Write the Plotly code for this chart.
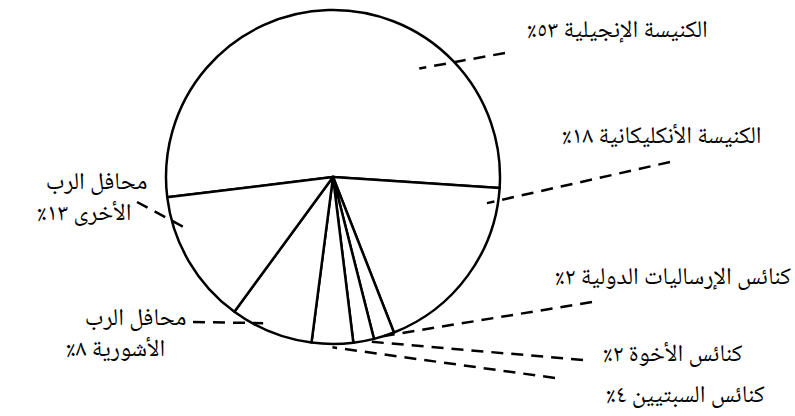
import numpy as np
import plotly.graph_objects as go

# data
categories = [
    "الكنيسة الإنجيلية",
    "الكنيسة الأنكليكانية",
    "كنائس الإرساليات الدولية",
    "كنائس الأخوة",
    "كنائس السبتيين",
    "محافل الرب<br>الأشورية",
    "محافل الرب<br>الأخرى",
]
values = [53, 18, 2, 2, 4, 8, 13]

W, H = 795, 416
cx, cy, R = 333, 177, 167          # pie centre / radius in pixels
rotation = 263

# leader line tip inside each slice: (fraction along slice, radius factor)
tips = [(0.71, 0.83), (0.09, 0.935), (0.5, 1.0), (0.5, 1.0), (0.5, 1.02), (0.63, 0.97), (0.72, 0.92)]
# outer end of leader lines (pixels)
ends = [(505, 53), (670, 162), (592, 302), (583, 360), (555, 378), (193, 322), (137, 202)]
# label box: right edge x, centre y (pixels), extra indent of the 2nd line (nbsp count)
text_pos = [(710, 32, 0), (763, 138, 0), (793, 278, 0), (745, 355, 0), (767, 396, 0),
            (188, 335, 4), (149, 199, 3)]

AR_DIGITS = str.maketrans("0123456789", "٠١٢٣٤٥٦٧٨٩")
RLM = "\u200f"
NBSP = "\u00a0"
FONT = dict(family="Noto Naskh Arabic, DejaVu Sans, serif", size=24, color="black")


def px(x, y):
    return x / W, 1 - y / H


fig = go.Figure(go.Pie(
    labels=categories, values=values, sort=False, direction="clockwise",
    rotation=rotation, textinfo="none", hoverinfo="label+percent",
    marker=dict(colors=["white"] * len(values), line=dict(color="black", width=2.5)),
    domain=dict(x=[(cx - R) / W, (cx + R) / W], y=[1 - (cy + R) / H, 1 - (cy - R) / H]),
))

total = sum(values)
cum = np.concatenate([[0], np.cumsum(values)])
for i, v in enumerate(values):
    f, rf = tips[i]
    a = np.deg2rad(rotation + 360 * (cum[i] + f * v) / total)
    tx, ty = cx + rf * R * np.sin(a), cy - rf * R * np.cos(a)
    x0, y0 = px(*ends[i])
    x1, y1 = px(tx, ty)
    fig.add_shape(type="line", xref="paper", yref="paper", x0=x0, y0=y0, x1=x1, y1=y1,
                  line=dict(color="black", width=2.5, dash="12px,8px"))

    lx, ly, indent = text_pos[i]
    lines = categories[i].split("<br>")
    lines[-1] = lines[-1] + " " + str(v).translate(AR_DIGITS) + "٪"
    if len(lines) > 1:
        lines[-1] = NBSP * indent + lines[-1]
    text = "<br>".join(RLM + s + RLM for s in lines)
    ax, ay = px(lx, ly)
    fig.add_annotation(x=ax, y=ay, xref="paper", yref="paper", text=text, align="right",
                       showarrow=False, xanchor="right", yanchor="middle", font=FONT)

fig.update_layout(width=W, height=H, showlegend=False, margin=dict(l=0, r=0, t=0, b=0),
                  paper_bgcolor="white", plot_bgcolor="white")
# drop the browser's default body margin so the figure sits at the window's corner
fig.write_html("out.html", config={"displayModeBar": False},
               post_script="document.body.style.margin='0';")
